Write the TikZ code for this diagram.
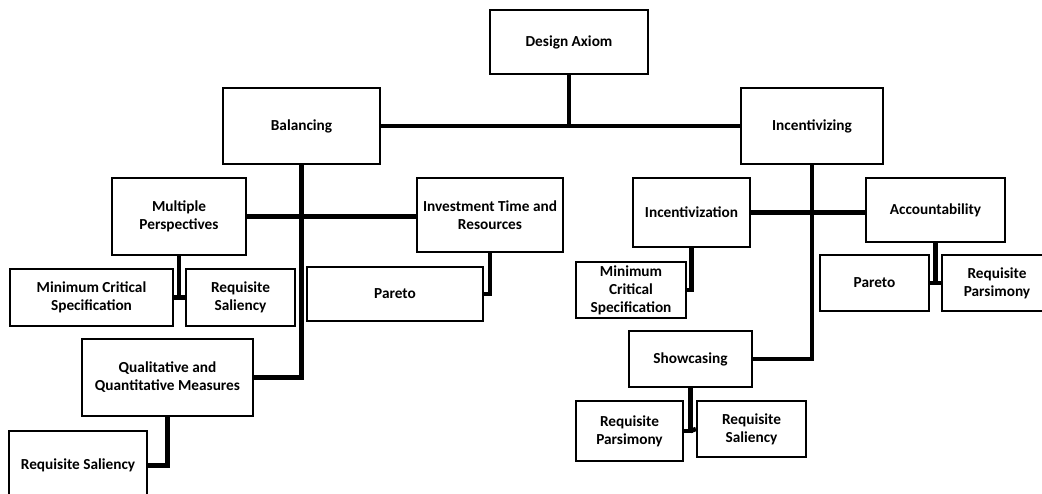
\documentclass[tikz,border=0pt]{standalone}
\usepackage{fontspec}
\setmainfont{Carlito}
\newfontfamily\boxfont{Carlito Bold}
\begin{document}
\begin{tikzpicture}[x=1pt,y=-1pt,
  box/.style={draw, line width=2.2pt, inner sep=0pt, align=center,
    font=\boxfont\fontsize{15.3}{18}\selectfont},
  conn/.style={line width=4.5pt}]
\useasboundingbox[fill=white] (0,0) rectangle (1042,493);
% level 0
\node[box, minimum width=158, minimum height=64] (da) at (569,42) {Design Axiom};
% level 1
\node[box, minimum width=157, minimum height=76] (bal) at (301.5,126) {Balancing};
\node[box, minimum width=142, minimum height=76] (inc) at (812,126) {Incentivizing};
% left branch
\node[box, minimum width=134, minimum height=77] (mp) at (179,216.5) {Multiple\\Perspectives};
\node[box, minimum width=146, minimum height=74] (itr) at (490,215) {Investment Time and\\Resources};
\node[box, minimum width=163, minimum height=57] (mcsa) at (91.5,297.5) {Minimum Critical\\Specification};
\node[box, minimum width=109, minimum height=57] (rsa) at (240.5,297.5) {Requisite\\Saliency};
\node[box, minimum width=176, minimum height=54] (para) at (395,294) {Pareto};
\node[box, minimum width=171, minimum height=77] (qqm) at (167.5,377.5) {Qualitative and\\Quantitative Measures};
\node[box, minimum width=138, minimum height=69] (rsb) at (78,465.5) {Requisite Saliency};
% right branch
\node[box, minimum width=117, minimum height=69] (incz) at (691.5,212.5) {Incentivization};
\node[box, minimum width=139, minimum height=64] (acc) at (935.5,210) {Accountability};
\node[box, minimum width=110, minimum height=56] (mcsb) at (631,290) {Minimum\\Critical\\Specification};
\node[box, minimum width=109, minimum height=56] (parb) at (874.5,283) {Pareto};
\node[box, minimum width=110, minimum height=56] (rpa) at (997,283) {Requisite\\Parsimony};
\node[box, minimum width=123, minimum height=56] (show) at (690.5,359) {Showcasing};
\node[box, minimum width=107, minimum height=60] (rpb) at (629.5,431) {Requisite\\Parsimony};
\node[box, minimum width=109, minimum height=56] (rsc) at (751.5,429) {Requisite\\Saliency};
% connectors
\draw[conn] (bal.east) -- (inc.west);
\draw[conn] (da.south) -- (da.south |- bal.east);
\draw[conn] (bal.south) |- (qqm.east);
\draw[conn] (mp.east) -- (mp.east -| itr.west);
\draw[conn] (mp.south) |- (mcsa.east);
\draw[conn] (mp.south |- mcsa.east) -- (rsa.west);
\draw[conn] (itr.south) |- (para.east);
\draw[conn] (qqm.south) |- (rsb.east);
\draw[conn] (inc.south) |- (show.east);
\draw[conn] (incz.east) -- (incz.east -| acc.west);
\draw[conn] (incz.south) |- (mcsb.east);
\draw[conn] (acc.south) |- (parb.east);
\draw[conn] (acc.south |- parb.east) -- (rpa.west);
\draw[conn] (show.south) |- (rpb.east);
\draw[conn] (show.south |- rpb.east) -- (rsc.west);
\end{tikzpicture}
\end{document}
